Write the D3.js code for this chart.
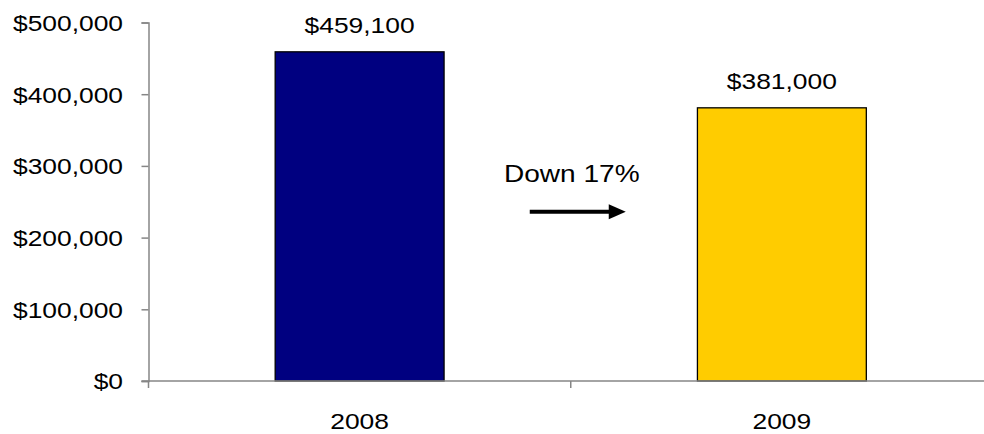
<!DOCTYPE html>
<html>
<head>
<meta charset="utf-8">
<script src="https://cdn.jsdelivr.net/npm/d3@7/dist/d3.min.js"></script>
<style>
  html, body { margin: 0; padding: 0; background: #fff; }
  svg { display: block; font-family: "Liberation Sans", Arial, sans-serif; }
</style>
</head>
<body>
<svg id="chart" width="984" height="434"></svg>
<script>
// chart data
const years = ['2008', '2009'];
const amounts = [459100, 381000];
const barColors = ['#000080', '#FFCC00'];
const yTicks = [0, 100000, 200000, 300000, 400000, 500000];
const changeNote = 'Down 17%';

const margins = {top: 22.5, right: -9, bottom: 53, left: 148.5};
const width = 984, height = 434;
const axisColor = '#868686';
const stretch = 1.2;   // the original text is drawn a bit wide

const svg = d3.select('#chart');

const x = d3.scaleBand()
  .domain(years)
  .range([margins.left, width - margins.right])
  .padding(0);

const y = d3.scaleLinear()
  .domain([0, 500000])
  .range([height - margins.bottom, margins.top]);

const money = v => '$' + d3.format(',')(v);
const barW = x.bandwidth() * 0.4;

// place a wide text at (px, py)
function wideText(sel, px, py, size, sx) {
  return sel
    .attr('transform', (d, i) => `translate(${typeof px === 'function' ? px(d, i) : px},${typeof py === 'function' ? py(d, i) : py}) scale(${sx || stretch},1)`)
    .style('font-size', size + 'px')
    .attr('fill', '#000');
}

// Y axis
const yAxis = svg.append('g')
  .attr('transform', `translate(${margins.left},0)`)
  .call(d3.axisLeft(y).tickValues(yTicks).tickFormat(money).tickSize(7));
yAxis.select('.domain').attr('stroke', axisColor).attr('stroke-width', 1.5);
yAxis.selectAll('.tick line').attr('stroke', axisColor).attr('stroke-width', 1.5);
yAxis.selectAll('.tick text')
  .attr('x', null).attr('dy', null)
  .attr('y', 0)
  .attr('fill', '#000')
  .style('font-family', '"Liberation Sans", Arial, sans-serif')
  .call(s => wideText(s, -25.5, 7.8, 22));

// bars
svg.selectAll('rect.bar')
  .data(years)
  .enter()
  .append('rect')
    .attr('class', 'bar')
    .attr('x', (d) => x(d) + (x.bandwidth() - barW) / 2)
    .attr('width', barW)
    .attr('y', (d, i) => y(amounts[i]))
    .attr('height', (d, i) => y(0) - y(amounts[i]))
    .attr('fill', (d, i) => barColors[i])
    .attr('stroke', '#000')
    .attr('stroke-width', 1.3);

// X axis: line with ticks on category boundaries
const y0 = y(0);
const xAxis = svg.append('g');
xAxis.append('line')
  .attr('x1', margins.left - 7).attr('x2', width)
  .attr('y1', y0).attr('y2', y0)
  .attr('stroke', axisColor).attr('stroke-width', 1.5);
const bounds = years.map(d => x(d)).concat([x.range()[1]]);
xAxis.selectAll('line.tick')
  .data(bounds)
  .enter()
  .append('line')
    .attr('class', 'tick')
    .attr('x1', d => d).attr('x2', d => d)
    .attr('y1', y0).attr('y2', y0 + 7)
    .attr('stroke', axisColor).attr('stroke-width', 1.5);
xAxis.selectAll('text')
  .data(years)
  .enter()
  .append('text')
    .attr('text-anchor', 'middle')
    .call(s => wideText(s, d => x(d) + x.bandwidth() / 2, y0 + 47.5, 22))
    .text(d => d);

// value labels
svg.selectAll('text.value')
  .data(years)
  .enter()
  .append('text')
    .attr('class', 'value')
    .attr('text-anchor', 'middle')
    .call(s => wideText(s, d => x(d) + x.bandwidth() / 2, (d, i) => y(amounts[i]) - 18.5, 22))
    .text((d, i) => money(amounts[i]));

// change annotation between the bars
const midX = x.range()[0] + x.bandwidth();
svg.append('text')
  .attr('text-anchor', 'middle')
  .call(s => wideText(s, midX + 1, y(277500), 24, 1.17))
  .text(changeNote);

const arrowY = y(236000);
svg.append('line')
  .attr('x1', midX - 41).attr('x2', midX + 40)
  .attr('y1', arrowY).attr('y2', arrowY)
  .attr('stroke', '#000').attr('stroke-width', 4);
svg.append('path')
  .attr('d', `M${midX + 55},${arrowY} L${midX + 38},${arrowY - 7.5} L${midX + 38},${arrowY + 7.5} Z`)
  .attr('fill', '#000');
</script>
</body>
</html>
